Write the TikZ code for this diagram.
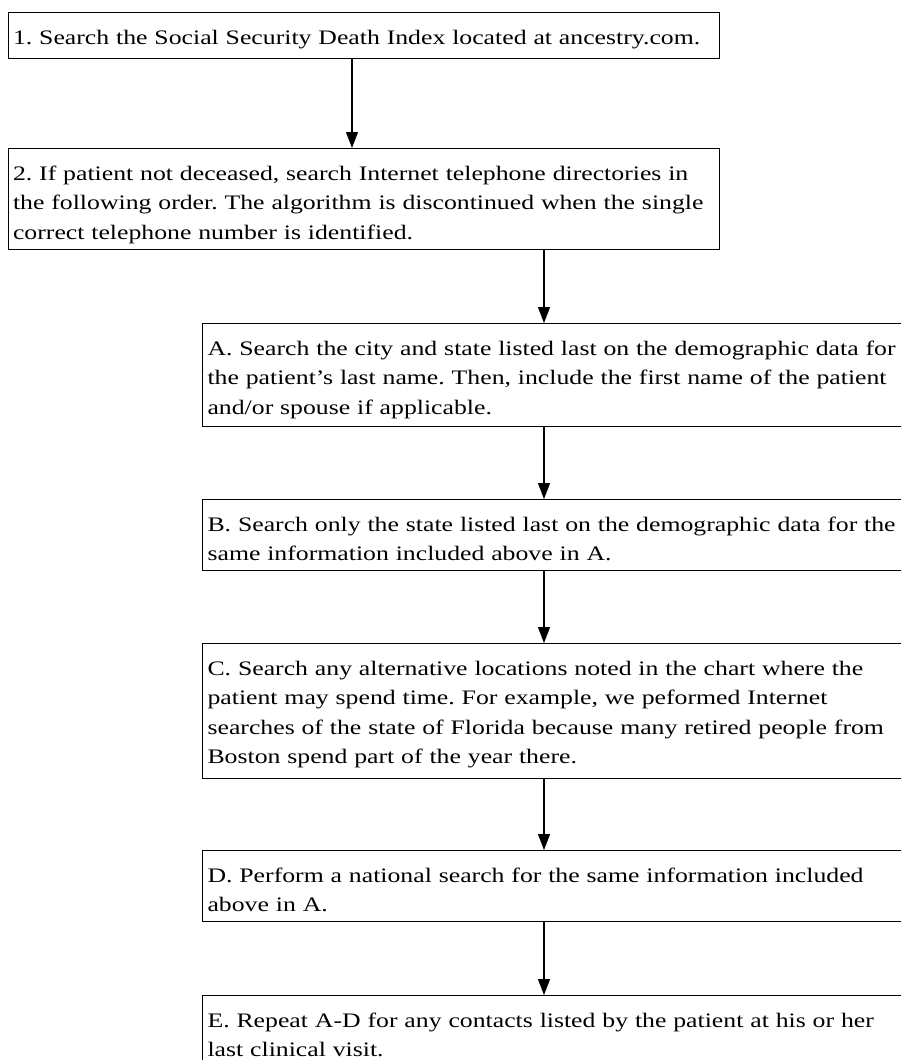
\documentclass[tikz,border=0pt]{standalone}
\usepackage{fontspec}
\setmainfont{Liberation Serif}[FakeStretch=1.25]
\usetikzlibrary{arrows.meta}
\frenchspacing
\begin{document}
\begin{tikzpicture}[x=1pt,y=1pt,
  box/.style={draw=black, line width=1.1pt, anchor=north west, align=left,
    inner ysep=0pt, text height=32pt,
    font=\fontsize{20.6pt}{29.3pt}\selectfont\frenchspacing},
  topbox/.style={box, inner xsep=4.5pt, text width=702pt},
  subbox/.style={box, inner xsep=5pt, text width=740pt},
  flow/.style={line width=1.1pt, -{Triangle[length=16pt,width=12pt]}}]
\fill[white] (0,0) rectangle (901,-1060);
\useasboundingbox (0,0) rectangle (901,-1060);
\clip (0,0) rectangle (901,-1060);

% columns of the connectors
\coordinate (c1) at (352,0);
\coordinate (c2) at (544,0);

\node[topbox, text depth=14pt] (s1) at (8,-12)
  {1. Search the Social Security Death Index located at ancestry.com.};
\node[topbox, text depth=69pt] (s2) at (8,-148)
  {2. If patient not deceased, search Internet telephone directories in\\
   the following order. The algorithm is discontinued when the single\\
   correct telephone number is identified.};
\node[subbox, text depth=71pt] (sa) at (202,-323)
  {A. Search the city and state listed last on the demographic data for\\
   the patient’s last name. Then, include the first name of the patient\\
   and/or spouse if applicable.};
\node[subbox, text depth=39pt] (sb) at (202,-499)
  {B. Search only the state listed last on the demographic data for the\\
   same information included above in A.};
\node[subbox, text depth=103pt] (sc) at (202,-643)
  {C. Search any alternative locations noted in the chart where the\\
   patient may spend time. For example, we peformed Internet\\
   searches of the state of Florida because many retired people from\\
   Boston spend part of the year there.};
\node[subbox, text depth=39pt] (sd) at (202,-850)
  {D. Perform a national search for the same information included\\
   above in A.};
\node[subbox, text depth=39pt] (se) at (202,-995)
  {E. Repeat A-D for any contacts listed by the patient at his or her\\
   last clinical visit.};

\draw[flow] (s1.south -| c1) -- (s2.north -| c1);
\draw[flow] (s2.south -| c2) -- (sa.north -| c2);
\draw[flow] (sa.south -| c2) -- (sb.north -| c2);
\draw[flow] (sb.south -| c2) -- (sc.north -| c2);
\draw[flow] (sc.south -| c2) -- (sd.north -| c2);
\draw[flow] (sd.south -| c2) -- (se.north -| c2);
\end{tikzpicture}
\end{document}
